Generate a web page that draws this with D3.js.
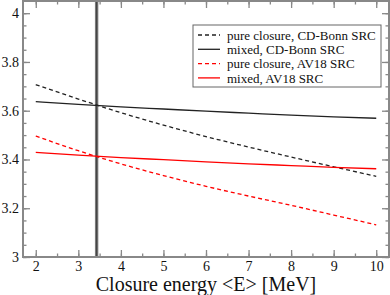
<!DOCTYPE html>
<html>
<head>
<meta charset="utf-8">
<script src="https://cdn.jsdelivr.net/npm/d3@7"></script>
<style>
  body { margin: 0; background: #fff; }
</style>
</head>
<body>
<div id="chart"></div>
<script>
// closure energy values [MeV]
const energies = [2, 3, 4, 5, 6, 7, 8, 9, 10];

// series
const pureCDBonn  = [3.707, 3.648, 3.592, 3.541, 3.494, 3.451, 3.410, 3.370, 3.331];
const mixedCDBonn = [3.637, 3.626, 3.616, 3.607, 3.598, 3.590, 3.582, 3.575, 3.569];
const pureAV18    = [3.496, 3.436, 3.382, 3.334, 3.290, 3.250, 3.212, 3.172, 3.132];
const mixedAV18   = [3.429, 3.418, 3.408, 3.399, 3.390, 3.382, 3.375, 3.368, 3.362];

const seriesNames = ["pure closure, CD-Bonn SRC", "mixed, CD-Bonn SRC",
                     "pure closure, AV18 SRC", "mixed, AV18 SRC"];

// vertical band
const bandRange = [3.39, 3.47];
const bandCenter = 3.43;

const xTicks = [2, 3, 4, 5, 6, 7, 8, 9, 10];
const yTicks = [3, 3.2, 3.4, 3.6, 3.8, 4];

const serif = "'Liberation Serif', 'Times New Roman', Times, 'DejaVu Serif', serif";

const W = 390, H = 295;
const margin = {left: 23, right: 1, top: 1, bottom: 38};
const width = W - margin.left - margin.right;
const height = H - margin.top - margin.bottom;

const svg = d3.select("#chart").append("svg")
    .attr("width", W)
    .attr("height", H)
    .style("font-family", serif);

const g = svg.append("g")
    .attr("transform", "translate(" + margin.left + "," + margin.top + ")");

const x = d3.scaleLinear().domain([1.7, 10.3]).range([0, width]);
const y = d3.scaleLinear().domain([3, 4.05]).range([height, 0]);

const styles = [
    {color: "#222", dash: "4,3"},
    {color: "#222", dash: null},
    {color: "#ff0000", dash: "4,3"},
    {color: "#ff0000", dash: null}
];
const allSeries = [pureCDBonn, mixedCDBonn, pureAV18, mixedAV18];

// band
g.append("rect")
    .attr("x", x(bandRange[0]))
    .attr("width", x(bandRange[1]) - x(bandRange[0]))
    .attr("y", 0)
    .attr("height", height)
    .attr("fill", "#7a7a7a");
g.append("line")
    .attr("x1", x(bandCenter)).attr("x2", x(bandCenter))
    .attr("y1", 0).attr("y2", height)
    .attr("stroke", "#444")
    .attr("stroke-width", 1.2);

// lines
const line = d3.line()
    .x((d, i) => x(energies[i]))
    .y(d => y(d))
    .curve(d3.curveMonotoneX);

allSeries.forEach(function (s, i) {
    g.append("path")
        .datum(s)
        .attr("fill", "none")
        .attr("stroke", styles[i].color)
        .attr("stroke-width", 1.3)
        .attr("stroke-dasharray", styles[i].dash)
        .attr("d", line);
});

// axes: ticks on all four sides
const frameColor = "#888";
const xMinor = d3.range(2, 10.01, 0.5);
const yMinor = d3.range(3, 4.001, 0.05);

function styleAxis(sel) {
    sel.attr("font-family", null);
    sel.select(".domain").remove();
    sel.selectAll("line").attr("stroke", frameColor).attr("stroke-width", 1.3);
    sel.selectAll("text")
        .attr("font-size", "14px")
        .attr("fill", "#111")
        .style("font-family", serif);
}

g.append("g").attr("transform", "translate(0," + height + ")")
    .call(d3.axisBottom(x).tickValues(xMinor).tickSize(-3.5).tickFormat(""))
    .call(styleAxis);
g.append("g").attr("transform", "translate(0," + height + ")")
    .call(d3.axisBottom(x).tickValues(xTicks).tickSize(-7).tickPadding(4).tickFormat(d3.format("d")))
    .call(styleAxis);
g.append("g")
    .call(d3.axisTop(x).tickValues(xMinor).tickSize(-3.5).tickFormat(""))
    .call(styleAxis);
g.append("g")
    .call(d3.axisTop(x).tickValues(xTicks).tickSize(-7).tickFormat(""))
    .call(styleAxis);

g.append("g")
    .call(d3.axisLeft(y).tickValues(yMinor).tickSize(-3.5).tickFormat(""))
    .call(styleAxis);
g.append("g")
    .call(d3.axisLeft(y).tickValues(yTicks).tickSize(-7).tickPadding(4).tickFormat(d => d3.format("")(d)))
    .call(styleAxis);
g.append("g").attr("transform", "translate(" + width + ",0)")
    .call(d3.axisRight(y).tickValues(yMinor).tickSize(-3.5).tickFormat(""))
    .call(styleAxis);
g.append("g").attr("transform", "translate(" + width + ",0)")
    .call(d3.axisRight(y).tickValues(yTicks).tickSize(-7).tickFormat(""))
    .call(styleAxis);

// frame
g.append("rect")
    .attr("width", width)
    .attr("height", height)
    .attr("fill", "none")
    .attr("stroke", frameColor)
    .attr("stroke-width", 2);

// axis title
svg.append("text")
    .attr("x", 206)
    .attr("y", 291)
    .attr("text-anchor", "middle")
    .attr("font-size", "20px")
    .attr("fill", "#111")
    .style("font-family", serif)
    .text("Closure energy <E> [MeV]");

// legend
const legend = svg.append("g").attr("transform", "translate(193,25)");
legend.append("rect")
    .attr("width", 188)
    .attr("height", 62)
    .attr("fill", "#fff")
    .attr("stroke", "#666")
    .attr("stroke-width", 1);

seriesNames.forEach(function (name, i) {
    const yy = 10 + i * 14.3;
    legend.append("line")
        .attr("x1", 5).attr("x2", 27)
        .attr("y1", yy).attr("y2", yy)
        .attr("stroke", styles[i].color)
        .attr("stroke-width", 1.3)
        .attr("stroke-dasharray", styles[i].dash);
    legend.append("text")
        .attr("x", 34)
        .attr("y", yy + 4.6)
        .attr("font-size", "13px")
        .attr("fill", "#111")
        .style("font-family", serif)
        .text(name);
});
</script>
</body>
</html>
